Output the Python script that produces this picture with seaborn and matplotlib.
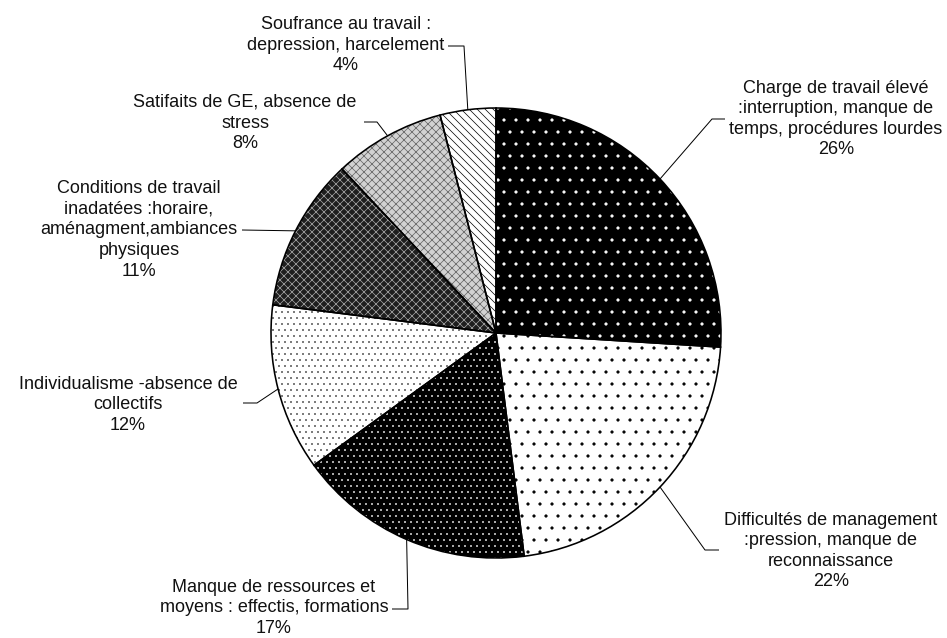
import numpy as np
import matplotlib
matplotlib.use("Agg")
import matplotlib.pyplot as plt
import seaborn as sns

# ---- data ----
categories = [
    "Charge de travail élevé\n:interruption, manque de\ntemps, procédures lourdes",
    "Difficultés de management\n:pression, manque de\nreconnaissance",
    "Manque de ressources et\nmoyens : effectis, formations",
    "Individualisme -absence de\ncollectifs",
    "Conditions de travail\ninadatées :horaire,\naménagment,ambiances\nphysiques",
    "Satifaits de GE, absence de\nstress",
    "Soufrance au travail :\ndepression, harcelement",
]
values = [26, 22, 17, 12, 11, 8, 4]

# ---- style ----
sns.set_theme(style="white")
plt.rcParams['font.family'] = ['Liberation Sans', 'DejaVu Sans']
plt.rcParams['hatch.linewidth'] = 0.7

W, H, DPI = 947, 638, 72
fig = plt.figure(figsize=(W / DPI, H / DPI), dpi=DPI)
fig.patch.set_facecolor("white")
ax = fig.add_axes([0, 0, 1, 1])

cx, cy, R = 496, 333, 225  # pixel layout of the pie

def px(x, y):
    return ((x - cx) / R, (cy - y) / R)

# (face colour, hatch, hatch colour)
styles = [
    ("black", ".", "white"),
    ("white", ".", "black"),
    ("black", "..", "#dddddd"),
    ("white", "..", "#555555"),
    ("#1e1e1e", "xxx", "#a8a8a8"),
    ("#d2d2d2", "xxx", "#626262"),
    ("white", "\\\\\\", "black"),
]

wedges, _ = ax.pie(values, startangle=90, counterclock=False,
                   radius=1, center=(0, 0), wedgeprops=dict(linewidth=0))
for w, (fc, h, hc) in zip(wedges, styles):
    w.set_facecolor(fc)
    w.set_hatch(h)
    w.set_edgecolor(hc)
    w.set_linewidth(0)

# outlines
ax.pie(values, startangle=90, counterclock=False, radius=1, center=(0, 0),
       wedgeprops=dict(fill=False, edgecolor="black", linewidth=1.6))

ax.set_xlim(-cx / R, (W - cx) / R)
ax.set_ylim(-(H - cy) / R, cy / R)
ax.set_aspect("equal")
ax.axis("off")

# label layout (pixel positions): text centre, elbow, line end
text_pos = [(836, 119), (831, 551), (274, 608), (128, 405), (139, 230), (245, 123), (346, 45)]
elbows = [(712, 119), (705, 550), (408, 609), (257, 403), (242, 230), (377, 122), (464, 46)]
ends = [(725, 119), (719, 550), (392, 609), (243, 403), (242, 230), (364, 122), (448, 46)]

for w, cat, v, tp, el, en in zip(wedges, categories, values, text_pos, elbows, ends):
    ang = np.deg2rad((w.theta1 + w.theta2) / 2)
    ax0, ay0 = np.cos(ang), np.sin(ang)
    ex, ey = px(*el)
    nx, ny = px(*en)
    ax.plot([ax0, ex, nx], [ay0, ey, ny], color="black", lw=1.0,
            solid_capstyle="butt", zorder=5)
    tx, ty = px(*tp)
    ax.text(tx, ty, f"{cat}\n{v}%", ha="center", va="center",
            multialignment="center", fontsize=18, linespacing=1.28,
            color="#111111")

fig.savefig("out.png", dpi=DPI, facecolor="white")
